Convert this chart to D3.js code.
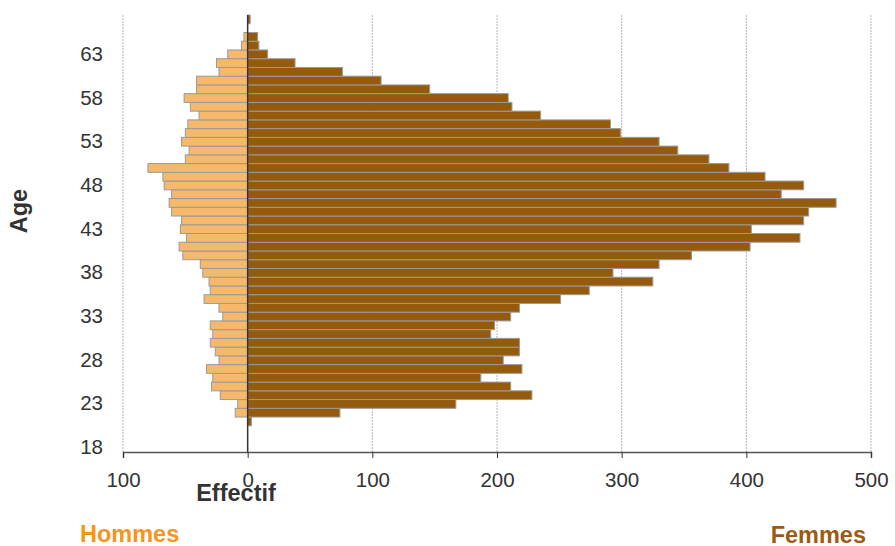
<!DOCTYPE html>
<html>
<head>
<meta charset="utf-8">
<script src="https://cdn.jsdelivr.net/npm/d3@7"></script>
<style>
  html, body { margin: 0; padding: 0; background: #fff; }
  svg { display: block; }
  text { font-family: "Liberation Sans", Arial, sans-serif; }
</style>
</head>
<body>
<svg id="chart" width="895" height="546"></svg>
<script>
const ages = d3.range(18, 68);
const femmes = [0,0,0,3,74,167,228,211,187,220,205,218,218,195,198,211,218,251,274,325,293,330,356,403,443,404,446,450,472,428,446,415,386,370,345,330,299,291,235,212,209,146,107,76,38,16,9,8,0,2];
const hommes = [0,0,0,0,10,8,22,29,28,33,23,26,30,28,30,20,23,35,30,31,36,38,52,55,49,54,53,61,63,61,67,68,80,50,47,53,50,48,39,46,51,41,41,23,25,16,5,3,0,0];
const xTicks = [-100, 0, 100, 200, 300, 400, 500];
const yTicks = [18, 23, 28, 33, 38, 43, 48, 53, 58, 63];

const svg = d3.select("#chart");
const x = d3.scaleLinear().domain([-100, 500]).range([123, 871]);
const y = d3.scaleBand().domain(ages).range([452, 15]).padding(0);

// gridlines
svg.append("g").selectAll("line").data(xTicks.filter(d => d !== 0)).join("line")
  .attr("x1", d => x(d)).attr("x2", d => x(d))
  .attr("y1", 15).attr("y2", 452)
  .attr("stroke", "#b5b5b5").attr("stroke-width", 1)
  .attr("stroke-dasharray", "2,1");

const rows = ages.map((a, i) => ({age: a, h: hommes[i], f: femmes[i]}));

// male bars
svg.append("g").selectAll("rect").data(rows.filter(d => d.h > 0)).join("rect")
  .attr("x", d => x(-d.h)).attr("width", d => x(0) - x(-d.h))
  .attr("y", d => y(d.age)).attr("height", y.bandwidth())
  .attr("fill", "#F6B96B").attr("stroke", "#9a9a9a").attr("stroke-width", 1);

// female bars
svg.append("g").selectAll("rect").data(rows.filter(d => d.f > 0)).join("rect")
  .attr("x", x(0)).attr("width", d => x(d.f) - x(0))
  .attr("y", d => y(d.age)).attr("height", y.bandwidth())
  .attr("fill", "#955A0B").attr("stroke", "#9a9a9a").attr("stroke-width", 1);

// zero line
svg.append("line")
  .attr("x1", x(0)).attr("x2", x(0)).attr("y1", 15).attr("y2", 452)
  .attr("stroke", "#333").attr("stroke-width", 1.5);

// x axis
const xAxis = d3.axisBottom(x).tickValues(xTicks).tickSize(6).tickPadding(14)
  .tickFormat(d => Math.abs(d));
const gx = svg.append("g").attr("transform", "translate(0,452)").call(xAxis);
gx.select(".domain").attr("stroke", "#555").attr("stroke-width", 1.5);
gx.selectAll(".tick line").attr("stroke", "#333");
gx.selectAll("text").attr("font-size", 20.5).attr("fill", "#333")
  .style("font-family", "'Liberation Sans', Arial, sans-serif");

// y axis labels
const yAxis = d3.axisLeft(y).tickValues(yTicks).tickSize(0).tickPadding(145);
const gy = svg.append("g").attr("transform", "translate(248,0)").call(yAxis);
gy.select(".domain").remove();
gy.selectAll("text").attr("font-size", 20.5).attr("fill", "#333")
  .style("font-family", "'Liberation Sans', Arial, sans-serif");

// titles
svg.append("text").attr("x", 236).attr("y", 501).attr("text-anchor", "middle")
  .attr("font-size", 23.5).attr("font-weight", "bold").attr("fill", "#333").text("Effectif");
svg.append("text").attr("transform", "translate(27,211) rotate(-90)").attr("text-anchor", "middle")
  .attr("font-size", 23.5).attr("font-weight", "bold").attr("fill", "#333").text("Age");
svg.append("text").attr("x", 80).attr("y", 542)
  .attr("font-size", 23.5).attr("font-weight", "bold").attr("fill", "#F7941D").text("Hommes");
svg.append("text").attr("x", 866).attr("y", 543).attr("text-anchor", "end")
  .attr("font-size", 23.5).attr("font-weight", "bold").attr("fill", "#9C5B12").text("Femmes");
</script>
</body>
</html>
